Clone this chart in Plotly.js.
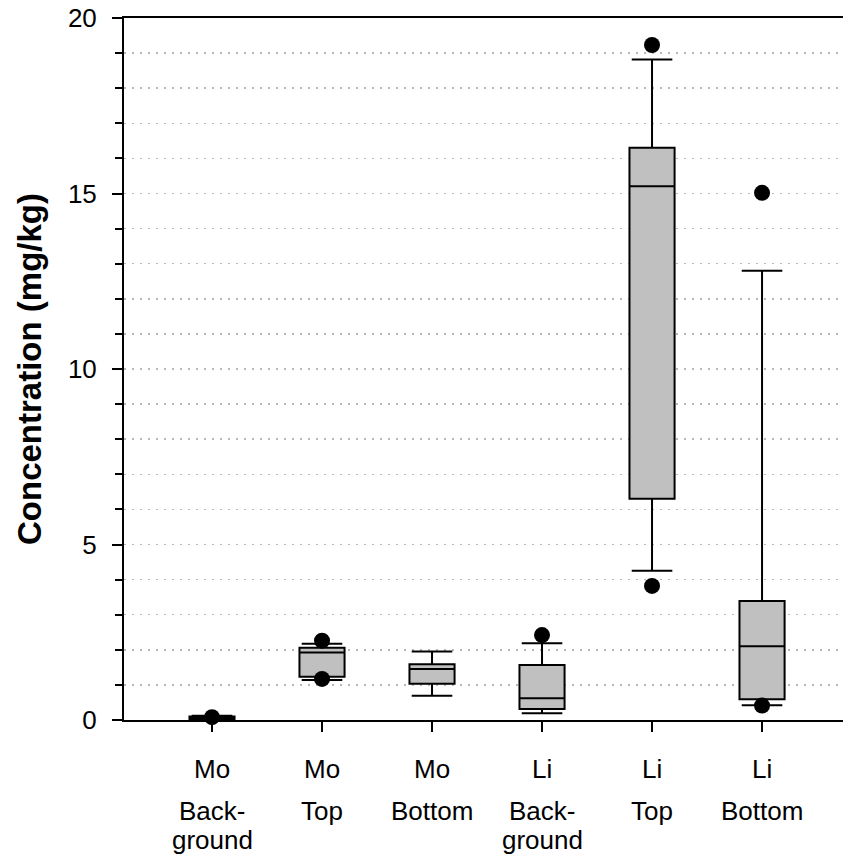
<!DOCTYPE html>
<html>
<head>
<meta charset="utf-8">
<script src="https://cdn.plot.ly/plotly-3.0.1.min.js"></script>
<style>html,body{margin:0;padding:0;background:#fff}#chart{width:843px;height:861px}</style>
</head>
<body>
<div id="chart"></div>
<script>
// Categories and label lines
const categories = ["Mo Background", "Mo Top", "Mo Bottom", "Li Background", "Li Top", "Li Bottom"];
const labelLine1 = ["Mo", "Mo", "Mo", "Li", "Li", "Li"];
const labelLine2 = ["Back-", "Top", "Bottom", "Back-", "Top", "Bottom"];
const labelLine3 = ["ground", "", "", "ground", "", ""];

// Box statistics (mg/kg)
const lowerWhisker = [0.02, 1.14, 0.69, 0.19, 4.25, 0.42];
const q1Values     = [0.03, 1.23, 1.03, 0.31, 6.30, 0.59];
const medianValues = [0.06, 1.92, 1.45, 0.62, 15.21, 2.10];
const q3Values     = [0.10, 2.06, 1.59, 1.57, 16.30, 3.39];
const upperWhisker = [0.12, 2.17, 1.95, 2.19, 18.82, 12.80];

// Outlier points
const outlierCategory = ["Mo Background", "Mo Top", "Mo Top", "Li Background", "Li Top", "Li Top", "Li Bottom", "Li Bottom"];
const outlierValues   = [0.08, 2.26, 1.17, 2.42, 19.23, 3.82, 15.02, 0.41];

// Y ticks
const yTickVals = [0, 5, 10, 15, 20];
const yTickText = ["0", "5", "10", "15", "20"];

const FONT = "Arial, 'Liberation Sans', sans-serif";

const boxTrace = {
  type: "box",
  x: categories,
  q1: q1Values,
  median: medianValues,
  q3: q3Values,
  lowerfence: lowerWhisker,
  upperfence: upperWhisker,
  boxpoints: false,
  fillcolor: "#c0c0c0",
  line: {color: "#000", width: 2},
  whiskerwidth: 0.9,
  width: 0.41,
  hoverinfo: "skip",
  showlegend: false
};

const outlierTrace = {
  type: "scatter",
  mode: "markers",
  x: outlierCategory,
  y: outlierValues,
  marker: {color: "#000", size: 16, line: {width: 0}},
  cliponaxis: false,
  hoverinfo: "skip",
  showlegend: false
};

const annotations = [];
const rows = [[labelLine1, -32], [labelLine2, -74], [labelLine3, -103]];
rows.forEach(([arr, shift]) => {
  arr.forEach((t, i) => {
    if (!t) return;
    annotations.push({
      text: t, x: categories[i], xref: "x", y: 0, yref: "paper",
      yanchor: "top", xanchor: "center", yshift: shift, showarrow: false,
      font: {family: FONT, size: 26, color: "#000"}
    });
  });
});

const layout = {
  width: 843, height: 861,
  margin: {l: 124, r: 0, t: 18, b: 141},
  paper_bgcolor: "#fff", plot_bgcolor: "#fff",
  font: {family: FONT, color: "#000"},
  showlegend: false,
  xaxis: {
    type: "category",
    categoryarray: categories,
    range: [-0.8, 5.736],
    showticklabels: false,
    ticks: "outside", ticklen: 10, tickwidth: 2, tickcolor: "#000",
    showline: true, linecolor: "#000", linewidth: 2, mirror: true,
    showgrid: false, zeroline: false
  },
  yaxis: {
    range: [0, 20],
    tickvals: yTickVals, ticktext: yTickText,
    ticks: "outside", ticklen: 10, tickwidth: 2, tickcolor: "#000",
    ticklabelstandoff: 10,
    tickfont: {family: FONT, size: 26, color: "#000"},
    showline: true, linecolor: "#000", linewidth: 2,
    showgrid: true, gridcolor: "#b8b8b8", gridwidth: 1.5, griddash: "2px,6px",
    zeroline: false,
    minor: {dtick: 1, ticks: "outside", ticklen: 7, tickwidth: 2, tickcolor: "#000",
            showgrid: true, gridcolor: "#b8b8b8", gridwidth: 1.5, griddash: "2px,6px"},
    title: {text: "<b>Concentration (mg/kg)</b>", font: {family: FONT, size: 33, color: "#000"}, standoff: 16}
  },
  annotations: annotations
};

Plotly.newPlot("chart", [boxTrace, outlierTrace], layout, {staticPlot: true});
</script>
</body>
</html>
